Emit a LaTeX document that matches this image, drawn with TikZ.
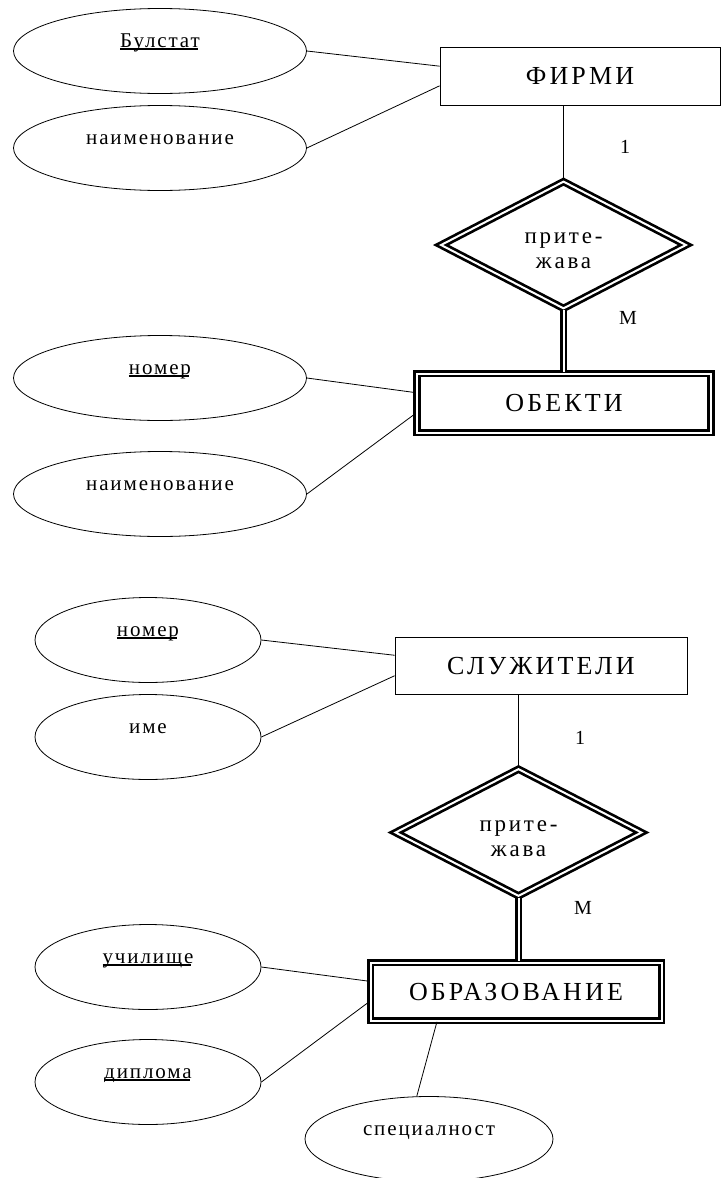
\documentclass[tikz,border=0pt]{standalone}
\usepackage{fontspec}
\setmainfont{Liberation Serif}[LetterSpace=9]
\newfontfamily\widefont{Liberation Serif}[LetterSpace=12]
\usetikzlibrary{shapes.geometric}
% underlined key attribute: rule sits just under the baseline
\newcommand\keyattr[1]{\setbox0\hbox{#1}\rlap{\rule[-3pt]{\dimexpr\wd0-2pt\relax}{1.7pt}}\box0}
% two-line relationship label, lowered a little inside the diamond
\newcommand\rellabel[2]{\raisebox{-6pt}[\height][\depth]{\begin{tabular}{@{}c@{}}#1\\#2\end{tabular}}}
\tikzset{
  attr/.style={ellipse, draw, line width=0.8pt, inner sep=0pt, minimum height=85pt,
    text height=8pt, text depth=16pt, font=\fontsize{21}{25}\selectfont},
  attrwide/.style={attr, minimum width=293pt},
  attrnarrow/.style={attr, minimum width=226pt},
  entity/.style={rectangle, draw, line width=0.8pt, inner sep=0pt,
    text height=17pt, text depth=0pt, font=\widefont\fontsize{26}{30}\selectfont},
  weakentity/.style={entity, line width=2.7pt, double, double distance=2pt},
  weakrel/.style={diamond, draw, line width=2.7pt, double, double distance=2pt,
    inner sep=0pt, font=\widefont\fontsize{23}{25}\selectfont},
  card/.style={inner sep=0pt, font=\fontsize{20}{24}\selectfont},
  link/.style={line width=0.8pt},
  idlink/.style={line width=2.7pt, double, double distance=2pt},
}
\begin{document}
\begin{tikzpicture}[x=1pt, y=-1pt]
\useasboundingbox (0,0) rectangle (722,1178);
\clip (0,0) rectangle (722,1178);

% ---- ФИРМИ / ОБЕКТИ ----
\node[attrwide] (bul) at (160,51) {\keyattr{Булстат}};
\node[attrwide] (naimA) at (160,148) {наименование};
\node[entity, minimum width=280pt, minimum height=58pt] (firmi) at (580,76) {ФИРМИ};
\node[weakrel, minimum width=246pt, minimum height=126pt] (relA) at (563.5,245) {\rellabel{прите-}{жава}};
\node[card] (oneA) at (625,147) {1};
\node[card] (manyA) at (628,318) {М};
\node[weakentity, minimum width=294pt, minimum height=59pt] (obekti) at (564,403) {ОБЕКТИ};
\node[attrwide] (nomerA) at (160,378) {\keyattr{номер}};
\node[attrwide] (naimB) at (160,494) {наименование};

\draw[link] (bul.east) -- (firmi.176);
\draw[link] (naimA.east) -- (firmi.184);
\draw[link] (relA.north) -- (relA.north |- firmi.south);
\draw[idlink] (relA.south) -- (relA.south |- obekti.north);
\draw[link] (nomerA.east) -- (obekti.176);
\draw[link] (naimB.east) -- (obekti.184);

% ---- СЛУЖИТЕЛИ / ОБРАЗОВАНИЕ ----
\node[attrnarrow] (nomerB) at (148,640) {\keyattr{номер}};
\node[attrnarrow] (ime) at (148,737) {име};
\node[entity, minimum width=292pt, minimum height=57pt] (sluzh) at (541,665.5) {СЛУЖИТЕЛИ};
\node[weakrel, minimum width=247pt, minimum height=121pt] (relB) at (518.5,832.5) {\rellabel{прите-}{жава}};
\node[card] (oneB) at (580,738) {1};
\node[card] (manyB) at (583,908) {М};
\node[weakentity, minimum width=291pt, minimum height=58pt] (obraz) at (516,991.5) {ОБРАЗОВАНИЕ};
\node[attrnarrow] (uchil) at (148,967) {\keyattr{училище}};
\node[attrnarrow] (dipl) at (148,1082) {\keyattr{диплома}};
\node[attr, minimum width=248pt] (spec) at (429,1139) {специалност};

\draw[link] (nomerB.east) -- (sluzh.176);
\draw[link] (ime.east) -- (sluzh.184);
\draw[link] (relB.north) -- (relB.north |- sluzh.south);
\draw[idlink] (relB.south) -- (relB.south |- obraz.north);
\draw[link] (uchil.east) -- (obraz.176);
\draw[link] (dipl.east) -- (obraz.184);
\draw[link] (obraz.201) -- (spec.106);
\end{tikzpicture}
\end{document}
